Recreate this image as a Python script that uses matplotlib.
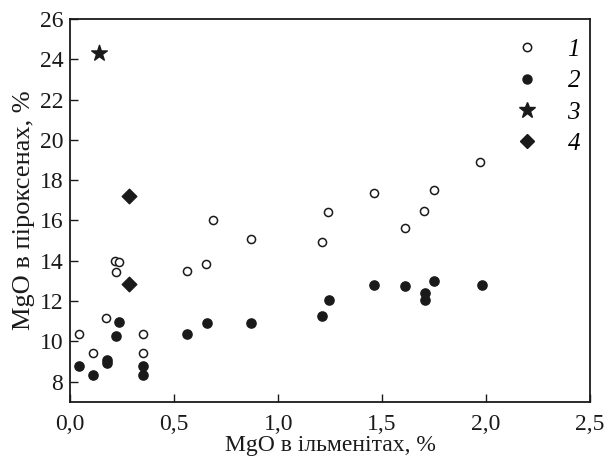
import matplotlib
matplotlib.use("Agg")
import matplotlib.pyplot as plt
from matplotlib.ticker import FuncFormatter
from matplotlib.lines import Line2D

# group 1: open circles
x1 = [0.04, 0.11, 0.17, 0.216, 0.236, 0.218, 0.35, 0.35, 0.56, 0.655, 0.686, 0.87,
      1.21, 1.24, 1.46, 1.61, 1.70, 1.75, 1.97]
y1 = [10.37, 9.40, 11.16, 14.0, 13.94, 13.42, 10.37, 9.44, 13.47, 13.85, 16.0, 15.08,
      14.92, 16.40, 17.36, 15.62, 16.45, 17.49, 18.91]
# group 2: filled circles
x2 = [0.04, 0.111, 0.176, 0.176, 0.22, 0.236, 0.348, 0.348, 0.561, 0.656, 0.869,
      1.212, 1.244, 1.459, 1.612, 1.707, 1.707, 1.752, 1.979]
y2 = [8.76, 8.31, 9.09, 8.91, 10.27, 10.98, 8.76, 8.31, 10.37, 10.90, 10.90,
      11.27, 12.07, 12.78, 12.75, 12.38, 12.03, 12.99, 12.78]
# group 3: star
x3 = [0.139]
y3 = [24.30]
# group 4: diamonds
x4 = [0.284, 0.284]
y4 = [17.23, 12.85]

labels = ["1", "2", "3", "4"]
xticks = [0.0, 0.5, 1.0, 1.5, 2.0, 2.5]
yticks = [8, 10, 12, 14, 16, 18, 20, 22, 24, 26]

plt.rcParams["font.family"] = ["Liberation Serif", "DejaVu Serif"]
ink = "#1a1a1a"

fig = plt.figure(figsize=(6.04, 4.68), dpi=100)
ax = fig.add_axes([0.1164, 0.1417, 0.8604, 0.8175])

ax.scatter(x1, y1, s=34, facecolors="white", edgecolors=ink, linewidths=1.1, zorder=3)
ax.scatter(x2, y2, s=44, color=ink, zorder=3)
ax.scatter(x3, y3, s=140, marker="*", color=ink, zorder=3)
ax.scatter(x4, y4, s=55, marker="D", color=ink, zorder=3)

ax.set_xlim(0, 2.5)
ax.set_ylim(7.0, 26)
ax.set_xticks(xticks)
ax.set_yticks(yticks)
ax.xaxis.set_major_formatter(FuncFormatter(lambda v, p: f"{v:.1f}".replace(".", ",")))
ax.tick_params(direction="in", length=6, width=1.0, color=ink, labelsize=17,
               labelcolor=ink, top=False, right=False)
ax.tick_params(axis="x", pad=9)
ax.tick_params(axis="y", pad=5)
for sp in ax.spines.values():
    sp.set_linewidth(1.3)
    sp.set_color(ink)

ax.set_xlabel("MgO в ільменітах, %", fontsize=17, color=ink, labelpad=0)
ax.set_ylabel("MgO в піроксенах, %", fontsize=19, color=ink, labelpad=3)

handles = [
    Line2D([], [], ls="none", marker="o", ms=6, mfc="white", mec=ink, mew=1.1),
    Line2D([], [], ls="none", marker="o", ms=6.5, color=ink),
    Line2D([], [], ls="none", marker="*", ms=12, color=ink),
    Line2D([], [], ls="none", marker="D", ms=7, color=ink),
]
ax.legend(handles, labels, loc="upper right", bbox_to_anchor=(1.0, 0.975), frameon=False,
          prop={"family": "Liberation Serif", "style": "italic", "size": 18},
          handletextpad=1.1, labelspacing=0.35, borderaxespad=0, handlelength=1.0)

fig.savefig("out.png", dpi=100)
